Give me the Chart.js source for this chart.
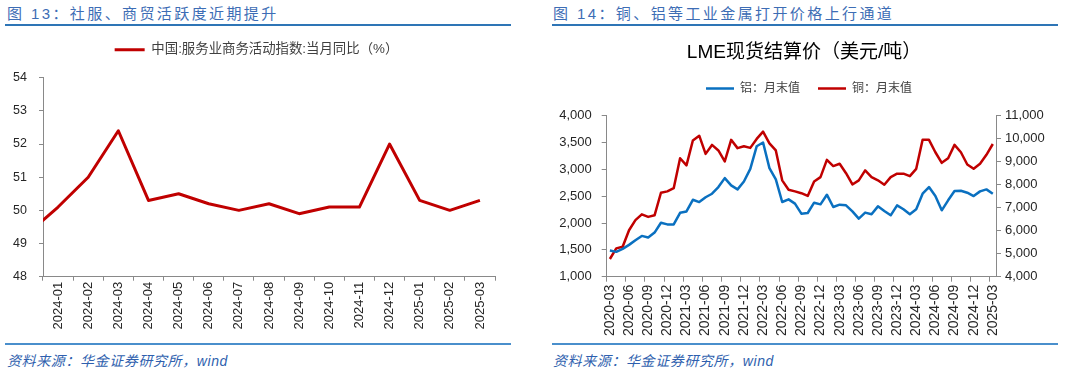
<!DOCTYPE html>
<html>
<head>
<meta charset="utf-8">
<script src="https://cdn.jsdelivr.net/npm/chart.js@4/dist/chart.umd.min.js"></script>
<style>
body{margin:0;width:1080px;height:372px;background:#fff;position:relative;overflow:hidden;font-family:"Liberation Sans",Arial,"Noto Sans CJK SC",sans-serif}
.hd{position:absolute;top:5px;font-size:15px;line-height:18px;color:#3d6db5;letter-spacing:2.4px;white-space:nowrap}
.rule{position:absolute;height:2px;background:#2e75b6}
.src{position:absolute;top:352px;font-size:14px;line-height:18px;color:#2f5fae;font-style:italic;white-space:nowrap;letter-spacing:0.6px}
canvas{position:absolute;top:30px}
</style>
</head>
<body>
<div class="hd" style="left:7px">图 13：社服、商贸活跃度近期提升</div>
<div class="hd" style="left:553px">图 14：铜、铝等工业金属打开价格上行通道</div>
<div class="rule" style="left:5px;top:24px;width:506px"></div>
<div class="rule" style="left:552px;top:24px;width:506px"></div>
<div class="rule" style="left:5px;top:343px;width:506px;background:#4a8fcc"></div>
<div class="rule" style="left:552px;top:343px;width:506px;background:#4a8fcc"></div>
<div class="src" style="left:7px">资料来源：华金证券研究所，wind</div>
<div class="src" style="left:553px">资料来源：华金证券研究所，wind</div>
<canvas id="c1" width="540" height="312" style="left:0"></canvas>
<canvas id="c2" width="540" height="312" style="left:540px"></canvas>
<script>
// 图13 服务业商务活动指数 (first month is only there so the line enters from the axis)
const pmiMonths = ['2023-12', '2024-01', '2024-02', '2024-03', '2024-04', '2024-05', '2024-06', '2024-07',
  '2024-08', '2024-09', '2024-10', '2024-11', '2024-12', '2025-01', '2025-02', '2025-03'];
const pmiValues = [49.3, 50.1, 51.0, 52.4, 50.3, 50.5, 50.2, 50.0, 50.2, 49.9, 50.1, 50.1, 52.0, 50.3, 50.0, 50.3];
const pmiLabel = '中国:服务业商务活动指数:当月同比（%）';

// 图14 LME 月末值
const lmeMonths = [
  '2020-03', '2020-04', '2020-05', '2020-06', '2020-07', '2020-08', '2020-09', '2020-10', '2020-11', '2020-12',
  '2021-01', '2021-02', '2021-03', '2021-04', '2021-05', '2021-06', '2021-07', '2021-08', '2021-09', '2021-10', '2021-11', '2021-12',
  '2022-01', '2022-02', '2022-03', '2022-04', '2022-05', '2022-06', '2022-07', '2022-08', '2022-09', '2022-10', '2022-11', '2022-12',
  '2023-01', '2023-02', '2023-03', '2023-04', '2023-05', '2023-06', '2023-07', '2023-08', '2023-09', '2023-10', '2023-11', '2023-12',
  '2024-01', '2024-02', '2024-03', '2024-04', '2024-05', '2024-06', '2024-07', '2024-08', '2024-09', '2024-10', '2024-11', '2024-12',
  '2025-01', '2025-02', '2025-03'];
const aluminium = [1488, 1463, 1519, 1593, 1680, 1760, 1729, 1822, 2006, 1975,
  1975, 2191, 2216, 2433, 2390, 2480, 2546, 2670, 2837, 2701, 2627, 2775,
  3010, 3430, 3500, 3023, 2812, 2392, 2441, 2361, 2175, 2187, 2379, 2348,
  2528, 2299, 2342, 2330, 2218, 2082, 2194, 2163, 2311, 2225, 2144, 2330,
  2256, 2163, 2256, 2546, 2670, 2503, 2237, 2423, 2596, 2602, 2565, 2503,
  2590, 2627, 2546];
const copper = [4770, 5230, 5300, 6020, 6460, 6710, 6600, 6670, 7650, 7710,
  7850, 9150, 8840, 9920, 10130, 9340, 9730, 9490, 9010, 9950, 9590, 9670,
  9600, 9990, 10310, 9800, 9490, 8190, 7780, 7710, 7630, 7510, 8140, 8330,
  9080, 8810, 8910, 8500, 8010, 8190, 8620, 8330, 8190, 8000, 8330, 8480,
  8480, 8370, 8690, 9950, 9950, 9410, 8950, 9150, 9730, 9410, 8880, 8690,
  8910, 9300, 9770];
const alLabel = '铝：月末值';
const cuLabel = '铜：月末值';
const lmeTitle = 'LME现货结算价（美元/吨）';

const red = '#c00000';
const blue = '#0a70c0';
const axisGray = '#898989';
const tickText = '#262626';

Chart.defaults.font.family = '"Liberation Sans", Arial, "Noto Sans CJK SC", sans-serif';
Chart.defaults.color = tickText;

// fixed legend height, optional sideways nudge
function legendBox(h, dx) {
  return {
    id: 'legendBox',
    beforeInit(chart) {
      const fit = chart.legend.fit;
      chart.legend.fit = function () { fit.call(this); this.height = h; };
    },
    afterLayout(chart) {
      if (dx) { chart.legend.left += dx; chart.legend.right += dx; }
    }
  };
}

new Chart(document.getElementById('c1'), {
  type: 'line',
  data: {
    labels: pmiMonths,
    datasets: [{
      label: pmiLabel,
      data: pmiValues,
      borderColor: red,
      backgroundColor: red,
      borderWidth: 3,
      pointRadius: 0,
      tension: 0,
      borderJoinStyle: 'round'
    }]
  },
  options: {
    responsive: false,
    animation: false,
    layout: { padding: { top: 3, right: 45, bottom: 0, left: 0 } },
    plugins: {
      tooltip: { enabled: false },
      legend: {
        labels: {
          usePointStyle: true, pointStyle: 'line', pointStyleWidth: 30,
          color: '#404040', font: { size: 13.4 }, padding: 10
        }
      }
    },
    scales: {
      x: {
        min: '2024-01',
        offset: true,
        grid: { offset: true, drawOnChartArea: false, drawTicks: true, tickLength: 4, color: axisGray },
        border: { color: axisGray, width: 1 },
        ticks: { autoSkip: false, maxRotation: 90, minRotation: 90, padding: 1, font: { size: 13 } },
        afterFit(s) { s.height = 65.3; }
      },
      y: {
        min: 48, max: 54,
        ticks: { stepSize: 1, padding: 12, font: { size: 12.5 } },
        grid: { drawOnChartArea: false, drawTicks: true, tickLength: 4, color: axisGray },
        border: { color: axisGray, width: 1 },
        afterFit(s) { s.width = 43; }
      }
    }
  },
  plugins: [legendBox(44.7, 9)]
});

new Chart(document.getElementById('c2'), {
  type: 'line',
  data: {
    labels: lmeMonths,
    datasets: [{
      label: alLabel,
      data: aluminium,
      yAxisID: 'y',
      borderColor: blue,
      backgroundColor: blue,
      borderWidth: 2.5,
      pointRadius: 0,
      tension: 0,
      borderJoinStyle: 'round'
    }, {
      label: cuLabel,
      data: copper,
      yAxisID: 'y1',
      borderColor: red,
      backgroundColor: red,
      borderWidth: 2.5,
      pointRadius: 0,
      tension: 0,
      borderJoinStyle: 'round'
    }]
  },
  options: {
    responsive: false,
    animation: false,
    layout: { padding: { top: 0, right: 12, bottom: 0, left: 0 } },
    plugins: {
      tooltip: { enabled: false },
      title: {
        display: true, text: lmeTitle, color: '#000',
        font: { size: 19, weight: 'normal' },
        padding: { top: 11.6, bottom: 0 }
      },
      legend: {
        labels: {
          usePointStyle: true, pointStyle: 'line', pointStyleWidth: 28,
          color: '#404040', font: { size: 12 }, padding: 18
        }
      }
    },
    scales: {
      x: {
        offset: true,
        grid: {
          offset: true, drawOnChartArea: false, drawTicks: true, tickLength: 5,
          color: c => (c.index % 3 === 0 ? axisGray : 'rgba(0,0,0,0)')
        },
        border: { color: axisGray, width: 1 },
        ticks: {
          autoSkip: false, maxRotation: 90, minRotation: 90, padding: 3, font: { size: 14 },
          callback(v, i) { return i % 3 === 0 ? this.getLabelForValue(v) : ''; }
        },
        afterFit(s) { s.height = 65.3; }
      },
      y: {
        position: 'left',
        min: 1000, max: 4000,
        ticks: { stepSize: 500, padding: 10, font: { size: 13 } },
        grid: { drawOnChartArea: false, drawTicks: true, tickLength: 5, color: axisGray },
        border: { color: axisGray, width: 1 },
        afterFit(s) { s.width = 66.7; }
      },
      y1: {
        position: 'right',
        min: 4000, max: 11000,
        ticks: { stepSize: 1000, padding: 4, font: { size: 13 } },
        grid: { drawOnChartArea: false, drawTicks: true, tickLength: 5, color: axisGray },
        border: { color: axisGray, width: 1 },
        afterFit(s) { s.width = 72; }
      }
    }
  },
  plugins: [legendBox(51.3, 5)]
});
</script>
</body>
</html>
